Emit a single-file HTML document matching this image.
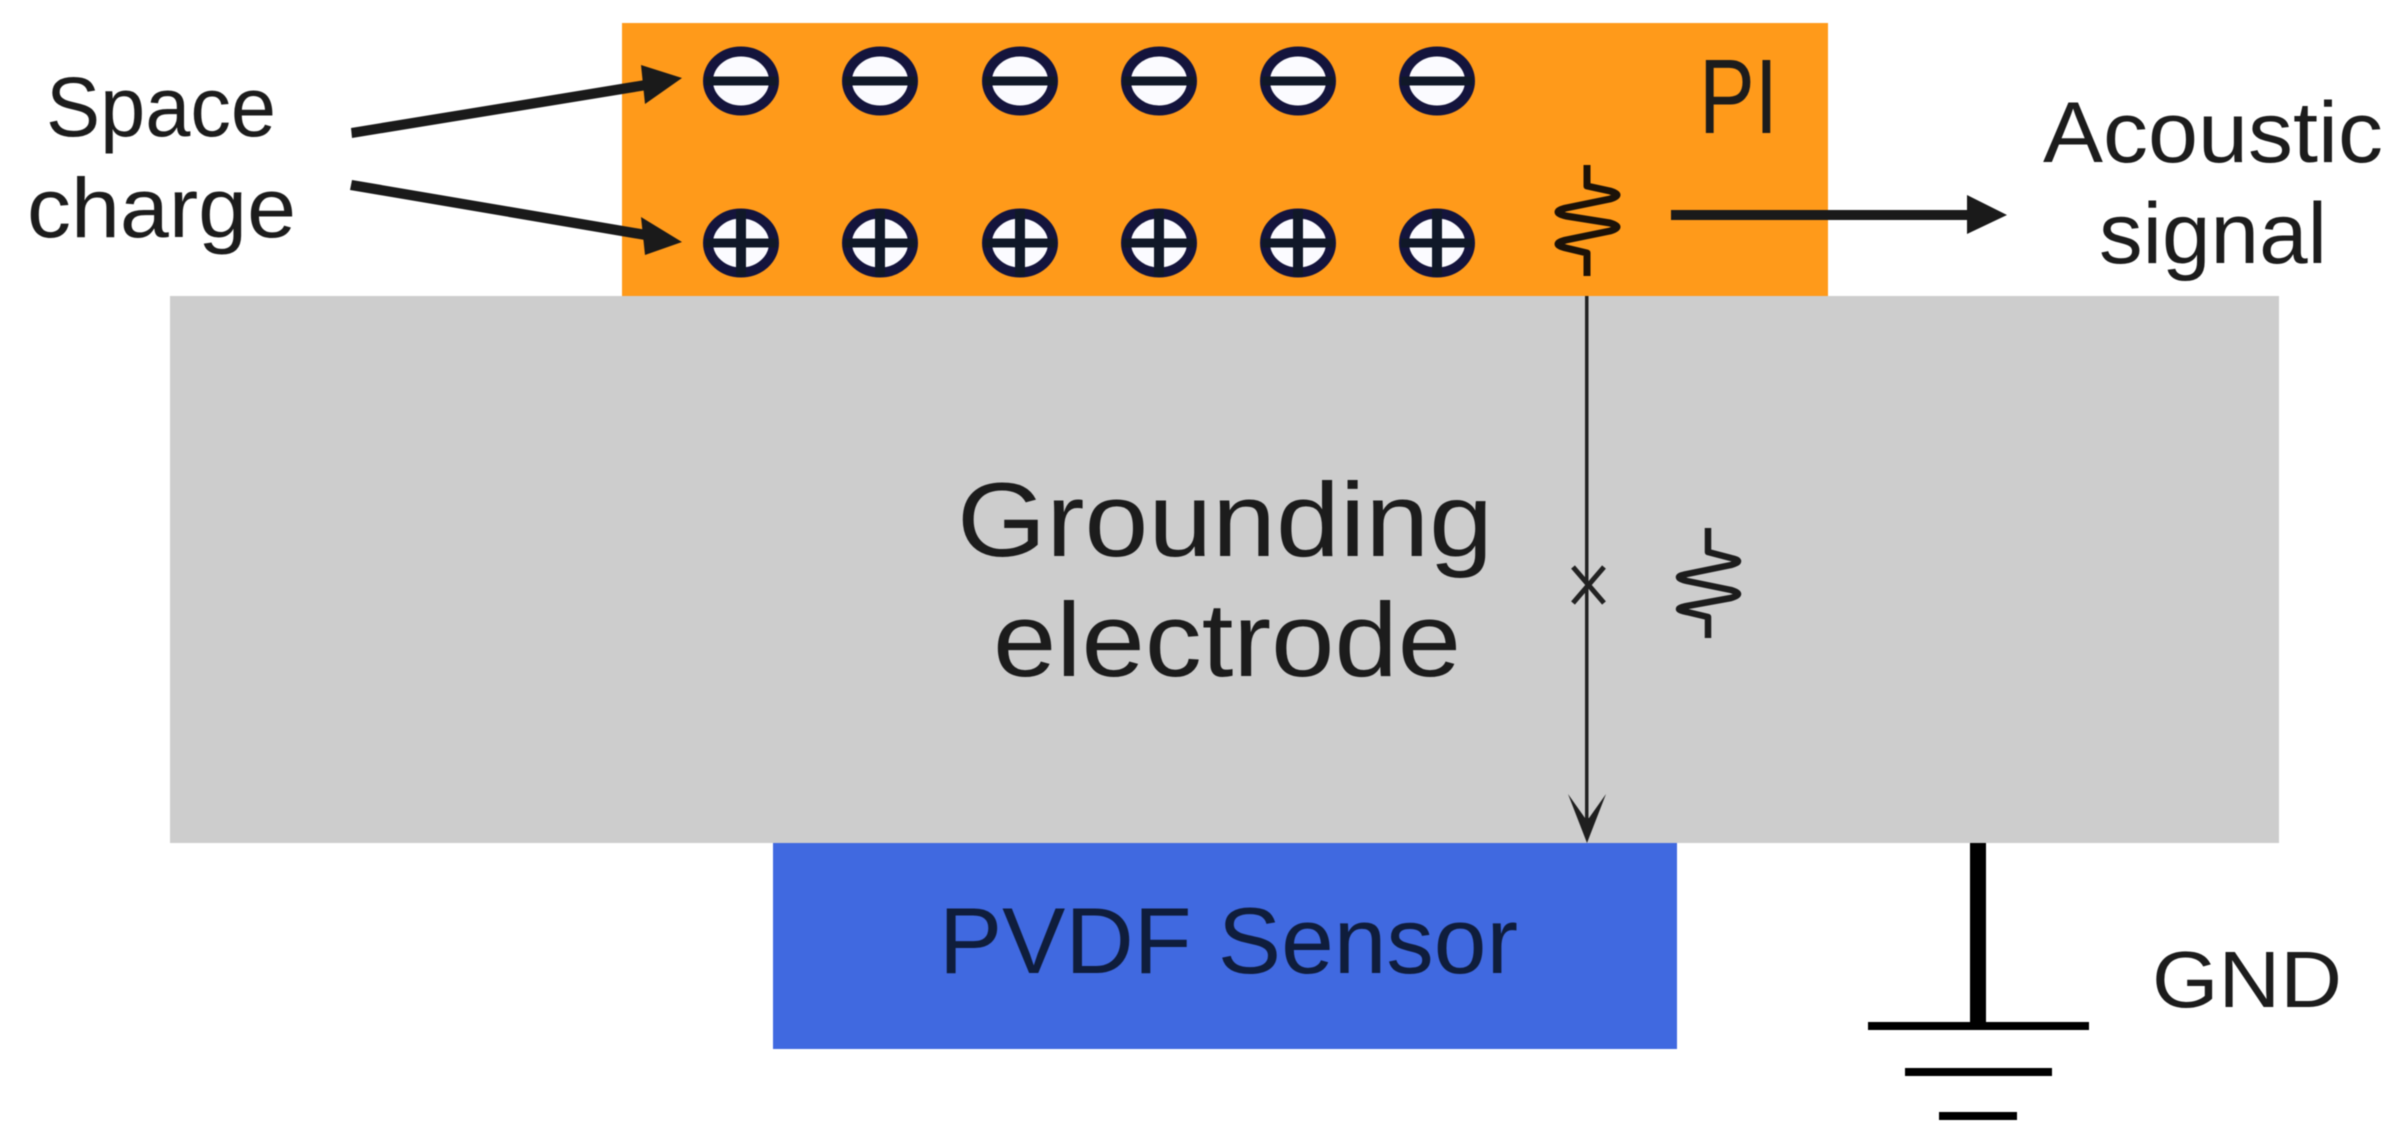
<!DOCTYPE html>
<html>
<head>
<meta charset="utf-8">
<style>
html,body{margin:0;padding:0;background:#fff;width:2408px;height:1139px;overflow:hidden}
svg{display:block;filter:blur(0.6px)}
text{font-family:"Liberation Sans",sans-serif;fill:#1c1c1c}
</style>
</head>
<body>
<svg width="2408" height="1139" viewBox="0 0 2408 1139" xmlns="http://www.w3.org/2000/svg">
<defs>
<g id="neg">
<ellipse cx="0" cy="0" rx="33" ry="29.5" fill="#fbfbff" stroke="#14143c" stroke-width="10"/>
<rect x="-36" y="-4.5" width="72" height="9" fill="#101828"/>
</g>
<g id="pos">
<ellipse cx="0" cy="0" rx="33" ry="29.5" fill="#fbfbff" stroke="#14143c" stroke-width="10"/>
<rect x="-36" y="-4.5" width="72" height="9" fill="#101828"/>
<rect x="-5" y="-33" width="10" height="66" fill="#101828"/>
</g>
</defs>

<rect x="622" y="23" width="1206" height="273" fill="#ff9a1a"/>
<rect x="170" y="296" width="2109" height="547" fill="#cdcdcd"/>
<rect x="773" y="843" width="904" height="206" fill="#4069e0"/>

<use href="#neg" x="741" y="81"/><use href="#neg" x="880" y="81"/><use href="#neg" x="1020" y="81"/><use href="#neg" x="1159" y="81"/><use href="#neg" x="1298" y="81"/><use href="#neg" x="1437" y="81"/>
<use href="#pos" x="741" y="243"/><use href="#pos" x="880" y="243"/><use href="#pos" x="1020" y="243"/><use href="#pos" x="1159" y="243"/><use href="#pos" x="1298" y="243"/><use href="#pos" x="1437" y="243"/>

<g fill="#1a1a1a" stroke="none">
<polygon points="351,128 645,80 647,90 352,138"/>
<polygon points="682,78 641,65 645,104"/>
<polygon points="352,180 350,190 645,240 647,230"/>
<polygon points="682,242 641,217 645,255"/>
<rect x="1671" y="210" width="300" height="10"/>
<polygon points="2007,215 1967,195 1967,234"/>
</g>

<path d="M1587 165V186L1610 191Q1624 195 1610 199L1566 208Q1550 212 1566 216L1610 223Q1624 227 1610 231L1566 240Q1550 244 1566 248L1587 253V276" fill="none" stroke="#1c1208" stroke-width="7" stroke-linejoin="round"/>
<path d="M1708 528V552L1731 558Q1745 561 1731 565L1687 574Q1671 577 1687 581L1731 590Q1745 594 1731 598L1687 606Q1671 609 1687 612L1708 617V638" fill="none" stroke="#1c1c1c" stroke-width="6.5" stroke-linejoin="round"/>

<rect x="1585" y="296" width="3.5" height="530" fill="#222"/>
<polygon points="1587,843 1568,794 1585,818 1589,818 1606,794" fill="#1f1f1f"/>
<g stroke="#222" stroke-width="5">
<line x1="1573" y1="567" x2="1604" y2="603"/>
<line x1="1604" y1="567" x2="1573" y2="603"/>
</g>

<g fill="#000">
<rect x="1970" y="843" width="16" height="183"/>
<rect x="1868" y="1022" width="221" height="8"/>
<rect x="1905" y="1068" width="147" height="8"/>
<rect x="1939" y="1112" width="78" height="8"/>
</g>

<text x="46" y="136" font-size="84" textLength="230" lengthAdjust="spacingAndGlyphs">Space</text>
<text x="27" y="237" font-size="84" textLength="269" lengthAdjust="spacingAndGlyphs">charge</text>
<text x="1699" y="133" font-size="106" textLength="79" lengthAdjust="spacingAndGlyphs">PI</text>
<text x="2043" y="162" font-size="86" textLength="340" lengthAdjust="spacingAndGlyphs">Acoustic</text>
<text x="2099" y="263" font-size="86" textLength="228" lengthAdjust="spacingAndGlyphs">signal</text>
<text x="957" y="556" font-size="105" textLength="536" lengthAdjust="spacingAndGlyphs">Grounding</text>
<text x="993" y="676" font-size="105" textLength="468" lengthAdjust="spacingAndGlyphs">electrode</text>
<text x="939" y="973" font-size="94" textLength="579" lengthAdjust="spacingAndGlyphs" style="fill:#0f1d3c">PVDF Sensor</text>
<text x="2152" y="1007" font-size="80" textLength="190" lengthAdjust="spacingAndGlyphs">GND</text>
</svg>
</body>
</html>
